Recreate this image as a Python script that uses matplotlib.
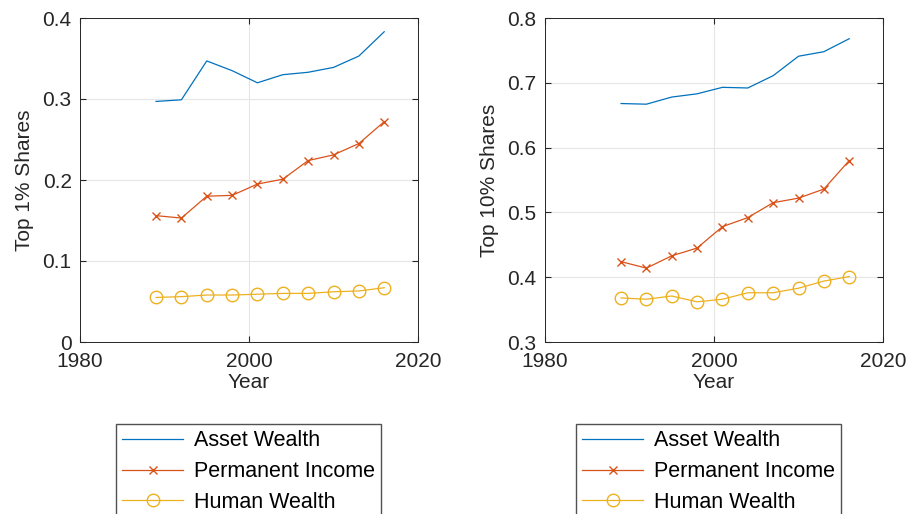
import matplotlib.pyplot as plt

plt.rcParams.update({"font.family": "Liberation Sans", "font.size": 15})

years = [1989, 1992, 1995, 1998, 2001, 2004, 2007, 2010, 2013, 2016]
top1_asset = [0.297, 0.299, 0.347, 0.335, 0.320, 0.330, 0.333, 0.339, 0.353, 0.383]
top1_perm = [0.156, 0.153, 0.180, 0.181, 0.195, 0.201, 0.224, 0.231, 0.245, 0.272]
top1_human = [0.055, 0.056, 0.058, 0.058, 0.059, 0.060, 0.060, 0.062, 0.063, 0.067]
top10_asset = [0.668, 0.667, 0.678, 0.683, 0.693, 0.692, 0.711, 0.741, 0.748, 0.768]
top10_perm = [0.424, 0.414, 0.433, 0.445, 0.478, 0.492, 0.515, 0.522, 0.536, 0.580]
top10_human = [0.368, 0.366, 0.371, 0.362, 0.366, 0.376, 0.376, 0.383, 0.394, 0.401]

W, H = 907, 514
fig = plt.figure(figsize=(W / 100, H / 100), dpi=100)

panels = [
    (80, top1_asset, top1_perm, top1_human, (0, 0.4), [0, 0.1, 0.2, 0.3, 0.4], "Top 1% Shares", 116),
    (545, top10_asset, top10_perm, top10_human, (0.3, 0.8), [0.3, 0.4, 0.5, 0.6, 0.7, 0.8], "Top 10% Shares", 576),
]
for x0, a, p, h, ylim, yt, ylab, lx in panels:
    ax = fig.add_axes([x0 / W, 1 - 342 / H, 338 / W, 324 / H])
    ax.plot(years, a, color="#0072BD", lw=0.9, label="Asset Wealth")
    ax.plot(years, p, color="#D95319", lw=0.9, marker="x", ms=6, label="Permanent Income")
    ax.plot(years, h, color="#EDB120", lw=0.9, marker="o", ms=9, mfc="none", label="Human Wealth")
    ax.set_xlim(1980, 2020)
    ax.set_ylim(*ylim)
    ax.set_xticks([1980, 2000, 2020])
    ax.set_yticks(yt)
    ax.set_yticklabels([f"{v:g}" for v in yt])
    ax.grid(True, color="#e6e6e6", lw=0.8)
    ax.set_axisbelow(True)
    ax.tick_params(axis="x", pad=7)
    ax.tick_params(axis="y", pad=6)
    ax.tick_params(direction="in", length=4, colors="#262626", top=True, right=True)
    for s in ax.spines.values():
        s.set_color("#262626")
        s.set_linewidth(0.7)
    ax.set_xlabel("Year", color="#262626", labelpad=2)
    ax.set_ylabel(ylab, color="#262626", labelpad=6)
    handles, labels = ax.get_legend_handles_labels()
    fig.legend(handles, labels, loc="upper left",
               bbox_to_anchor=(lx / W, 1 - 424 / H),
               frameon=True, fancybox=False, edgecolor="#262626",
               borderaxespad=0, handlelength=2.8, handletextpad=0.5,
               labelspacing=0.45, borderpad=0.3, fontsize=15.5)

fig.savefig("out.png", dpi=100)
